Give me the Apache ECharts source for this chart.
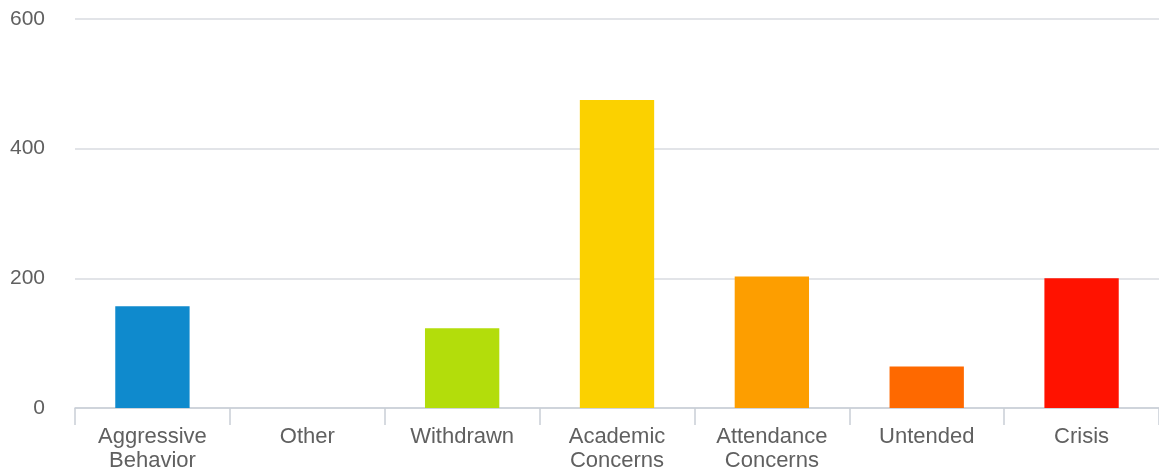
<!DOCTYPE html>
<html>
<head>
<meta charset="utf-8">
<style>
  html, body { margin: 0; padding: 0; background: #ffffff; }
  #chart { width: 1159px; height: 475px; }
</style>
<script src="https://cdn.jsdelivr.net/npm/echarts@6/dist/echarts.min.js"></script>
</head>
<body>
<div id="chart"></div>
<script>
// Referral counts by category
const categories = ['Aggressive Behavior', 'Other', 'Withdrawn', 'Academic Concerns', 'Attendance Concerns', 'Untended', 'Crisis'];
const counts = [157, 0, 123, 475, 203, 64, 200];
const barColors = ['#0f8acd', '#9aa3ad', '#b3dd0b', '#fbd100', '#fd9e00', '#fe6900', '#ff1200'];
const yTicks = [0, 200, 400, 600];

const textColor = '#606060';
const fontFamily = '"Liberation Sans", Arial, sans-serif';

const chart = echarts.init(document.getElementById('chart'), null, { renderer: 'canvas' });

chart.setOption({
  animation: false,
  backgroundColor: '#ffffff',
  grid: { left: 75, right: 0, top: 19, bottom: 67, containLabel: false },
  xAxis: {
    type: 'category',
    data: categories,
    boundaryGap: true,
    axisLine: { show: true, lineStyle: { color: '#c9ced6', width: 1.5 } },
    axisTick: { show: true, alignWithLabel: false, length: 17, lineStyle: { color: '#c9ced6', width: 1.5 } },
    axisLabel: {
      color: textColor,
      fontFamily: fontFamily,
      fontSize: 22,
      lineHeight: 24,
      margin: 17,
      interval: 0,
      formatter: v => v.replace(' ', '\n')
    },
    splitLine: { show: false }
  },
  yAxis: {
    type: 'value',
    min: yTicks[0],
    max: yTicks[yTicks.length - 1],
    interval: yTicks[1] - yTicks[0],
    axisLine: { show: false },
    axisTick: { show: false },
    axisLabel: {
      color: textColor,
      fontFamily: fontFamily,
      fontSize: 21,
      margin: 30,
      verticalAlign: 'middle',
      padding: [0, 0, 4, 0]
    },
    splitLine: { show: true, lineStyle: { color: '#d8dbe0', width: 1.5 } }
  },
  series: [{
    type: 'bar',
    data: counts,
    barWidth: '48%',
    itemStyle: {
      color: p => barColors[p.dataIndex]
    }
  }]
});
</script>
</body>
</html>
